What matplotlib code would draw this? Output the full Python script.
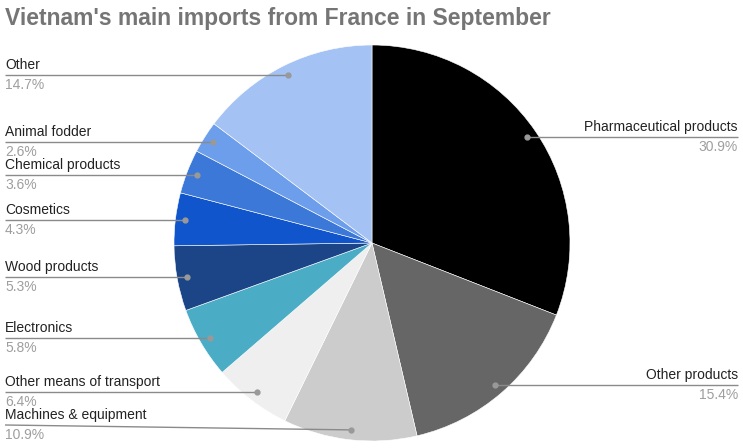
import numpy as np
import matplotlib
matplotlib.use('Agg')
import matplotlib.pyplot as plt

plt.rcParams['font.family'] = ['Liberation Sans', 'DejaVu Sans']

categories = ['Pharmaceutical products', 'Other products', 'Machines & equipment',
              'Other means of transport', 'Electronics', 'Wood products', 'Cosmetics',
              'Chemical products', 'Animal fodder', 'Other']
shares = [30.9, 15.4, 10.9, 6.4, 5.8, 5.3, 4.3, 3.6, 2.6, 14.7]
colors = ['#000000', '#666666', '#cccccc', '#efefef', '#4bacc6', '#1c4587',
          '#1155cc', '#3c78d8', '#6d9eeb', '#a4c2f4']

W, H = 743, 448
fig = plt.figure(figsize=(W / 100, H / 100), dpi=100)
ax = fig.add_axes([0, 0, 1, 1])

cx, cy, R = 372, H - 243, 198
ax.pie(shares, colors=colors, startangle=90, counterclock=False,
       center=(cx, cy), radius=R, frame=True,
       wedgeprops=dict(edgecolor='white', linewidth=0.4))
ax.set_xlim(0, W)
ax.set_ylim(0, H)
ax.axis('off')

# label line heights (pixels from top), layout only
label_y = {'Machines & equipment': 425}

total = sum(shares)
cum = 0
for name, val in zip(categories, shares):
    mid = 90 - 360 * (cum + val / 2) / total
    cum += val
    a = np.deg2rad(mid)
    dx, dy = cx + 0.95 * R * np.cos(a), cy + 0.95 * R * np.sin(a)
    ly = H - label_y[name] if name in label_y else dy
    right = np.cos(a) > 0
    x0 = 738 if right else 5
    ax.plot([x0, dx], [ly, dy], color='#8a8a8a', lw=1, solid_capstyle='butt', zorder=5)
    ax.plot(dx, dy, 'o', color='#999999', ms=3.5, zorder=6)
    ha = 'right' if right else 'left'
    ax.text(x0, ly + 3, name, ha=ha, va='bottom', fontsize=10, color='#222222')
    ax.text(x0, ly - 3, f'{val:.1f}%', ha=ha, va='top', fontsize=10, color='#9e9e9e')

fig.text(5 / W, 1 - 18 / H, "Vietnam's main imports from France in September",
         ha='left', va='center', fontsize=16.5, fontweight='bold', color='#757575')

fig.savefig('out.png', dpi=100)
